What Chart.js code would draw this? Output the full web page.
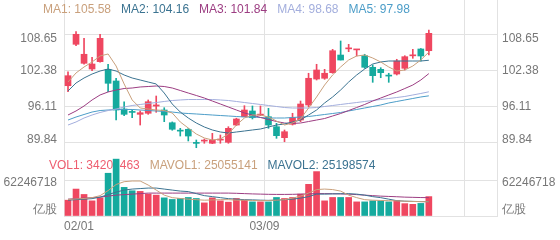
<!DOCTYPE html>
<html>
<head>
<meta charset="utf-8">
<script src="https://cdn.jsdelivr.net/npm/chart.js@4.4.0/dist/chart.umd.min.js"></script>
<style>
  html, body { margin: 0; padding: 0; background: #fff; }
</style>
</head>
<body>
<canvas id="kChart" width="560" height="240"></canvas>
<script>
// daily candles, oldest first
const opens  = [99.74, 106.93, 103.63, 102.64, 103.91, 102.59, 100.56, 95.69, 95.14, 94.77, 94.95, 96.20, 95.52, 93.31, 91.89, 92.17, 89.76, 90.12, 89.74, 90.29, 89.91, 92.91, 94.36, 95.35, 94.63, 94.36, 92.62, 90.71, 93.04, 93.78, 96.39, 100.90, 101.03, 102.00, 105.07, 106.14, 105.96, 104.95, 102.94, 102.59, 101.45, 101.77, 102.76, 104.93, 106.12, 105.82];
const highs  = [102.17, 109.12, 107.97, 104.67, 108.67, 103.46, 101.03, 96.96, 95.52, 95.35, 97.26, 97.95, 95.92, 93.45, 92.34, 92.30, 90.31, 90.48, 91.47, 91.18, 92.62, 94.10, 96.27, 96.22, 96.22, 95.81, 93.21, 92.05, 94.95, 97.08, 101.90, 103.46, 102.59, 106.06, 107.51, 106.93, 106.05, 105.20, 103.34, 102.87, 101.90, 104.33, 104.95, 106.06, 106.20, 109.42];
const lows   = [98.70, 106.69, 103.46, 102.35, 103.81, 98.70, 93.78, 94.53, 94.18, 92.91, 94.77, 95.12, 93.49, 92.00, 91.00, 90.14, 88.97, 89.74, 89.67, 89.74, 89.74, 92.80, 94.36, 93.96, 94.53, 92.34, 90.60, 90.01, 92.91, 93.49, 96.10, 100.73, 100.85, 101.90, 104.20, 105.65, 104.90, 102.76, 100.33, 101.13, 100.33, 101.60, 102.47, 104.50, 104.03, 105.07];
const closes = [101.48, 108.67, 105.20, 103.51, 107.97, 100.16, 95.52, 94.77, 95.10, 95.05, 96.96, 96.40, 94.65, 92.17, 91.85, 91.00, 89.72, 90.16, 90.31, 90.33, 92.34, 93.96, 95.52, 94.18, 94.67, 92.91, 91.06, 91.75, 94.18, 96.56, 101.03, 102.47, 101.90, 105.82, 104.20, 106.30, 106.00, 102.94, 101.48, 102.00, 101.41, 104.03, 104.78, 104.97, 104.90, 108.84];

// moving averages
const ma1 = [100.38, 101.95, 102.99, 103.86, 104.90, 105.25, 103.16, 100.04, 97.26, 95.87, 95.69, 95.52, 95.43, 95.00, 93.44, 92.39, 91.35, 90.66, 90.31, 90.48, 91.35, 92.91, 94.13, 94.65, 94.65, 94.30, 93.61, 92.91, 93.26, 93.96, 95.87, 97.78, 99.86, 101.60, 102.99, 104.21, 104.90, 105.07, 104.55, 103.86, 102.99, 102.29, 102.47, 103.16, 104.21, 105.58];
const ma2 = [98.82, 100.21, 101.08, 101.77, 102.29, 102.64, 102.29, 101.60, 101.08, 100.73, 100.38, 100.04, 98.47, 96.56, 95.17, 94.13, 93.26, 92.57, 92.05, 91.70, 91.52, 91.70, 91.87, 92.05, 92.22, 92.57, 92.91, 93.09, 93.44, 93.78, 94.65, 95.52, 96.74, 97.78, 98.99, 100.38, 101.60, 102.64, 103.51, 103.86, 104.03, 104.03, 104.03, 104.03, 104.03, 104.16];
const ma3 = [94.65, 95.35, 96.21, 97.26, 98.13, 98.65, 98.99, 99.25, 99.34, 99.52, 99.60, 99.69, 99.60, 99.34, 98.91, 98.47, 98.04, 97.60, 97.08, 96.56, 96.04, 95.52, 95.00, 94.65, 94.22, 93.87, 93.52, 93.26, 93.18, 93.26, 93.52, 93.78, 94.04, 94.48, 94.91, 95.43, 95.95, 96.48, 97.08, 97.60, 98.13, 98.65, 99.25, 99.86, 100.73, 101.84];
const ma4 = [92.91, 93.44, 94.13, 94.65, 95.09, 95.43, 95.69, 96.04, 96.30, 96.48, 96.65, 96.82, 97.00, 97.17, 97.26, 97.34, 97.34, 97.34, 97.34, 97.26, 97.17, 97.00, 96.82, 96.65, 96.48, 96.30, 96.13, 95.95, 95.87, 95.87, 95.87, 95.95, 96.13, 96.30, 96.48, 96.65, 96.82, 97.00, 97.17, 97.34, 97.52, 97.69, 97.87, 98.13, 98.39, 98.68];
const ma5 = [93.78, 94.30, 94.74, 95.17, 95.43, 95.52, 95.61, 95.61, 95.61, 95.52, 95.43, 95.35, 95.26, 95.17, 95.00, 94.91, 94.83, 94.74, 94.65, 94.56, 94.48, 94.39, 94.30, 94.30, 94.22, 94.13, 94.13, 94.13, 94.22, 94.30, 94.39, 94.56, 94.74, 94.91, 95.09, 95.35, 95.61, 95.87, 96.13, 96.39, 96.74, 97.00, 97.26, 97.52, 97.78, 97.98];

// volume, millions of shares
const volumes = [27.9, 47.5, 38.0, 26.7, 32.0, 75.4, 100.3, 50.5, 44.5, 43.4, 38.6, 36.8, 32.0, 29.2, 30.9, 32.7, 30.9, 23.1, 32.0, 26.7, 24.4, 30.9, 27.9, 24.9, 24.9, 24.9, 32.7, 30.9, 32.7, 38.6, 55.8, 78.3, 26.7, 32.7, 32.7, 32.7, 24.9, 24.9, 26.7, 26.7, 24.9, 27.2, 21.8, 20.6, 22.2, 34.206463];
const mavol1 = [29.2, 30.1, 30.9, 32.4, 35.9, 44.8, 55.5, 60.5, 61.7, 61.7, 54.6, 45.7, 36.8, 32.4, 30.9, 29.7, 28.8, 27.9, 28.3, 28.8, 28.8, 27.9, 27.9, 27.4, 27.0, 27.4, 27.9, 28.8, 31.5, 35.0, 40.4, 46.6, 47.5, 46.6, 43.9, 36.8, 32.4, 28.8, 27.9, 27.4, 27.0, 26.7, 26.1, 25.6, 25.3, 25.055141];
const mavol2 = [27.92, 28.81, 29.70, 30.59, 33.26, 37.70, 42.15, 45.70, 47.48, 48.37, 49.26, 49.26, 47.48, 45.70, 43.93, 43.04, 39.48, 35.92, 34.15, 32.37, 30.59, 29.70, 28.81, 28.45, 27.92, 27.57, 27.92, 28.81, 29.70, 31.48, 34.15, 38.59, 38.59, 38.95, 39.30, 39.30, 38.59, 36.81, 34.15, 32.37, 29.70, 27.03, 26.14, 25.79, 25.43, 25.198574];
const mavol3 = [29.70, 30.59, 31.48, 32.37, 33.26, 35.03, 36.81, 37.70, 38.59, 39.48, 40.37, 40.37, 40.37, 40.37, 40.37, 40.37, 40.37, 40.37, 40.37, 40.37, 40.37, 40.01, 39.48, 38.95, 38.59, 38.24, 38.06, 38.06, 38.24, 38.59, 38.95, 39.48, 39.48, 39.30, 38.95, 38.59, 37.70, 36.81, 35.92, 35.03, 34.50, 33.97, 33.26, 32.90, 32.54, 32.37];

// axes
const priceTicks = [89.84, 96.11, 102.38, 108.65];
const volTicks = [0, 62.246718];
const dateGridIndex = [0, 25, 50];
const dateTickLabels = ['02/01', '03/09'];
const slotCount = 54;
const volUnit = '亿股';

const upColor = '#ef4760';
const downColor = '#15aa9e';
const gridColor = '#e2e2e2';
const labelColor = '#777';
const FONT = '12px "Liberation Sans", Arial, sans-serif';

Chart.defaults.font.family = '"Liberation Sans", Arial, sans-serif';
Chart.defaults.font.size = 12;
Chart.defaults.color = labelColor;

const maLines = [
  { name: 'MA1', values: ma1, color: '#c9a07c' },
  { name: 'MA2', values: ma2, color: '#3b7391' },
  { name: 'MA3', values: ma3, color: '#9c3d82' },
  { name: 'MA4', values: ma4, color: '#a3aedd' },
  { name: 'MA5', values: ma5, color: '#4c9dc8' }
];
const volLines = [
  { name: 'MAVOL1', values: mavol1, color: '#c9a07c' },
  { name: 'MAVOL2', values: mavol2, color: '#3b7391' },
  { name: 'MAVOL3', values: mavol3, color: '#9c3d82' }
];

const slot = i => i + 0.5;
const barColors = closes.map((c, i) => c >= opens[i] ? upColor : downColor);
const fmtVol = v => String(Math.round(v * 1e6));

const maLegend = maLines.map(l => ({ text: l.name + ': ' + l.values[l.values.length - 1].toFixed(2), color: l.color }));
const volLegend = [
  { text: 'VOL1: ' + fmtVol(volumes[volumes.length - 1]), color: '#ee5d6f' },
  { text: 'MAVOL1: ' + fmtVol(mavol1[mavol1.length - 1]), color: volLines[0].color },
  { text: 'MAVOL2: ' + fmtVol(mavol2[mavol2.length - 1]), color: volLines[1].color }
];

// small vertical nudges for the edge labels, like the original app does
const priceNudge = [-3, 0, 0, 4.5];

const kText = {
  id: 'kText',
  beforeDatasetsDraw(chart) {
    // legends sit behind the bars
    const ctx = chart.ctx;
    ctx.save();
    ctx.font = FONT;
    ctx.textBaseline = 'middle';
    ctx.textAlign = 'left';
    const row = (items, x, y) => {
      items.forEach(it => {
        ctx.fillStyle = it.color;
        ctx.fillText(it.text, x, y);
        x += ctx.measureText(it.text).width + 10;
      });
    };
    row(maLegend, 43, 9.5);
    row(volLegend, 49, 166);
    ctx.restore();
  },
  afterDraw(chart) {
    // value labels on both sides
    const ctx = chart.ctx;
    const { left, right } = chart.chartArea;
    ctx.save();
    ctx.font = FONT;
    ctx.fillStyle = labelColor;
    ctx.textBaseline = 'middle';
    const both = (txt, y) => {
      ctx.textAlign = 'right';
      ctx.fillText(txt, left - 7, y);
      ctx.textAlign = 'left';
      ctx.fillText(txt, right + 5, y);
    };
    const py = chart.scales.price;
    priceTicks.forEach((v, i) => both(v.toFixed(2), py.getPixelForValue(v) + priceNudge[i]));
    const vy = chart.scales.vol;
    both(fmtVol(volTicks[1]), vy.getPixelForValue(volTicks[1]) + 2);
    both(volUnit, vy.bottom - 6);
    ctx.restore();
  }
};

const lineSet = (l, axis) => ({
  type: 'line',
  label: l.name,
  yAxisID: axis,
  data: l.values.map((v, i) => ({ x: slot(i), y: v })),
  borderColor: l.color,
  borderWidth: 1,
  pointRadius: 0,
  tension: 0
});

new Chart(document.getElementById('kChart'), {
  type: 'bar',
  data: {
    datasets: [
      ...maLines.map(l => lineSet(l, 'price')),
      ...volLines.map(l => lineSet(l, 'vol')),
      {
        label: 'wick',
        yAxisID: 'price',
        grouped: false,
        data: highs.map((h, i) => ({ x: slot(i), y: [lows[i], h] })),
        backgroundColor: barColors,
        barPercentage: 1,
        categoryPercentage: 1,
        maxBarThickness: 1
      },
      {
        label: 'body',
        yAxisID: 'price',
        grouped: false,
        data: opens.map((o, i) => ({ x: slot(i), y: [o, closes[i]] })),
        backgroundColor: barColors,
        barPercentage: 1,
        categoryPercentage: 1,
        maxBarThickness: 6,
        minBarLength: 1
      },
      {
        label: 'VOL',
        yAxisID: 'vol',
        grouped: false,
        data: volumes.map((v, i) => ({ x: slot(i), y: v })),
        backgroundColor: barColors,
        barPercentage: 1,
        categoryPercentage: 1,
        maxBarThickness: 6
      }
    ]
  },
  options: {
    responsive: false,
    animation: false,
    layout: { padding: { right: 63 } },
    plugins: {
      legend: { display: false },
      tooltip: { enabled: false }
    },
    scales: {
      x: {
        type: 'linear',
        min: 0,
        max: slotCount,
        offset: false,
        afterBuildTicks: s => { s.ticks = dateGridIndex.concat(slotCount).map(v => ({ value: v })); },
        afterFit: s => { s.height = 24; s.paddingLeft = 0; s.paddingRight = 0; },
        grid: { color: gridColor, drawTicks: false, offset: false },
        border: { color: gridColor },
        ticks: {
          padding: 3,
          align: 'inner',
          maxRotation: 0,
          autoSkip: false,
          callback: v => {
            const i = dateGridIndex.indexOf(v);
            return i >= 0 && i < dateTickLabels.length ? dateTickLabels[i] : '';
          }
        }
      },
      price: {
        axis: 'y',
        type: 'linear',
        position: 'left',
        stack: 'panes',
        stackWeight: 152,
        weight: 2,
        min: 88.225,
        max: 114.627,
        afterBuildTicks: s => { s.ticks = priceTicks.map(v => ({ value: v })); },
        afterFit: s => { s.width = 64; s.paddingTop = 0; s.paddingBottom = 0; },
        grid: { color: gridColor, drawTicks: false },
        border: { color: gridColor },
        ticks: { display: false }
      },
      vol: {
        axis: 'y',
        type: 'linear',
        position: 'left',
        stack: 'panes',
        stackWeight: 64,
        weight: 1,
        min: 0,
        max: 112.86,
        afterBuildTicks: s => { s.ticks = volTicks.map(v => ({ value: v })); },
        afterFit: s => { s.width = 64; s.paddingTop = 0; s.paddingBottom = 0; },
        grid: { color: gridColor, drawTicks: false },
        border: { color: gridColor },
        ticks: { display: false }
      }
    }
  },
  plugins: [kText]
});
</script>
</body>
</html>
